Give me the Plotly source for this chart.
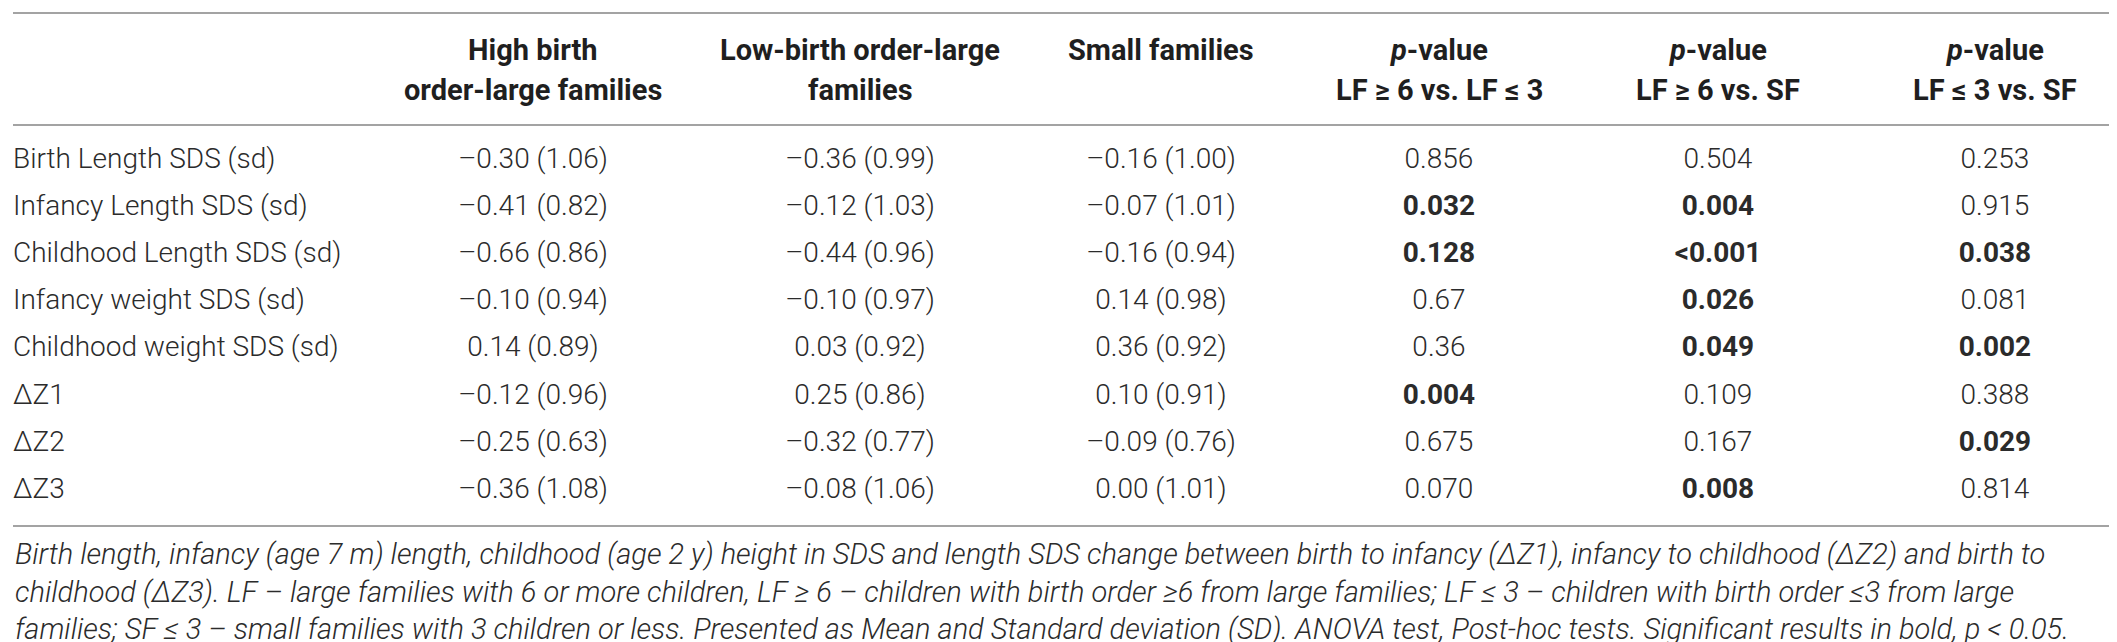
import plotly.graph_objects as go

# table content
ROW_LABELS = [
    "Birth Length SDS (sd)", "Infancy Length SDS (sd)", "Childhood Length SDS (sd)",
    "Infancy weight SDS (sd)", "Childhood weight SDS (sd)", "ΔZ1", "ΔZ2", "ΔZ3",
]
HIGH_MEAN = [-0.30, -0.41, -0.66, -0.10, 0.14, -0.12, -0.25, -0.36]
HIGH_SD = [1.06, 0.82, 0.86, 0.94, 0.89, 0.96, 0.63, 1.08]
LOW_MEAN = [-0.36, -0.12, -0.44, -0.10, 0.03, 0.25, -0.32, -0.08]
LOW_SD = [0.99, 1.03, 0.96, 0.97, 0.92, 0.86, 0.77, 1.06]
SMALL_MEAN = [-0.16, -0.07, -0.16, 0.14, 0.36, 0.10, -0.09, 0.00]
SMALL_SD = [1.00, 1.01, 0.94, 0.98, 0.92, 0.91, 0.76, 1.01]

P_HIGH_LOW = ["0.856", "0.032", "0.128", "0.67", "0.36", "0.004", "0.675", "0.070"]
P_HIGH_SF = ["0.504", "0.004", "<0.001", "0.026", "0.049", "0.109", "0.167", "0.008"]
P_LOW_SF = ["0.253", "0.915", "0.038", "0.081", "0.002", "0.388", "0.029", "0.814"]
BOLD_HIGH_LOW = [False, True, True, False, False, True, False, False]
BOLD_HIGH_SF = [False, True, True, True, True, False, False, True]
BOLD_LOW_SF = [False, False, True, False, True, False, True, False]

HEADER_TOP = ["High birth", "Low-birth order-large", "Small families",
              "<i>p</i>-value", "<i>p</i>-value", "<i>p</i>-value"]
HEADER_BOTTOM = ["order-large families", "families", "",
                 "LF ≥ 6 vs. LF ≤ 3", "LF ≥ 6 vs. SF", "LF ≤ 3 vs. SF"]

CAPTION = [
    "Birth length, infancy (age 7 m) length, childhood (age 2 y) height in SDS and length SDS change between birth to infancy (ΔZ1), infancy to childhood (ΔZ2) and birth to",
    "childhood (ΔZ3). LF – large families with 6 or more children, LF ≥ 6 – children with birth order ≥6 from large families; LF ≤ 3 – children with birth order ≤3 from large",
    "families; SF ≤ 3 – small families with 3 children or less. Presented as Mean and Standard deviation (SD). ANOVA test, Post-hoc tests. Significant results in bold, <i>p</i> < 0.05.",
]

# layout (pixel space)
W, H = 2117, 642
LABEL_X = 5
COL_X = [525, 852, 1153, 1431, 1710, 1987]
ROW0, ROW_STEP = 153, 47.1
HEAD_Y = [42, 82]
RULES_Y = [5, 117, 518]
CAP_Y0, CAP_STEP = 546, 37.5
FONT = "Roboto"
TEXT_COLOR = "#2b2b2b"
RULE_COLOR = "#a3a3a3"


def fmt_mean_sd(m, sd):
    sign = "–" if m < 0 else ""
    return f"{sign}{abs(m):.2f} ({sd:.2f})"


def bolden(vals, flags):
    return [f"<b>{v.replace('<', '&lt;')}</b>" if b else v.replace("<", "&lt;")
            for v, b in zip(vals, flags)]


row_y = [ROW0 + i * ROW_STEP for i in range(len(ROW_LABELS))]

columns = [
    [fmt_mean_sd(m, s) for m, s in zip(HIGH_MEAN, HIGH_SD)],
    [fmt_mean_sd(m, s) for m, s in zip(LOW_MEAN, LOW_SD)],
    [fmt_mean_sd(m, s) for m, s in zip(SMALL_MEAN, SMALL_SD)],
    bolden(P_HIGH_LOW, BOLD_HIGH_LOW),
    bolden(P_HIGH_SF, BOLD_HIGH_SF),
    bolden(P_LOW_SF, BOLD_LOW_SF),
]

body_font = dict(family=FONT, size=28, color=TEXT_COLOR, weight=300)

fig = go.Figure()
fig.add_trace(go.Scatter(
    x=[LABEL_X] * len(ROW_LABELS), y=row_y, text=ROW_LABELS,
    mode="text", textposition="middle right", textfont=body_font,
    hoverinfo="skip", showlegend=False,
))
for cx, col in zip(COL_X, columns):
    fig.add_trace(go.Scatter(
        x=[cx] * len(col), y=row_y, text=col,
        mode="text", textposition="middle center", textfont=body_font,
        hoverinfo="skip", showlegend=False,
    ))

# header
for cx, top, bottom in zip(COL_X, HEADER_TOP, HEADER_BOTTOM):
    for hy, txt in zip(HEAD_Y, [top, bottom]):
        if not txt:
            continue
        fig.add_annotation(
            x=cx, y=hy, text=f"<b>{txt}</b>", showarrow=False,
            xanchor="center", yanchor="middle",
            font=dict(family=FONT, size=29, color="#1f1f1f"),
        )

# caption
for i, line in enumerate(CAPTION):
    fig.add_annotation(
        x=LABEL_X, y=CAP_Y0 + i * CAP_STEP, text=f"<i>{line}</i>", showarrow=False,
        xanchor="left", yanchor="middle",
        font=dict(family=FONT, size=29, color=TEXT_COLOR, weight=300),
    )

for ry in RULES_Y:
    fig.add_shape(type="line", x0=LABEL_X, x1=W - 5, y0=ry, y1=ry,
                  line=dict(color=RULE_COLOR, width=2))

fig.update_layout(
    width=W, height=H,
    margin=dict(l=0, r=0, t=0, b=0),
    paper_bgcolor="white", plot_bgcolor="white",
    xaxis=dict(range=[0, W], visible=False, fixedrange=True),
    yaxis=dict(range=[H, 0], visible=False, fixedrange=True),
)

fig.write_html("out.html", config={"displayModeBar": False})
